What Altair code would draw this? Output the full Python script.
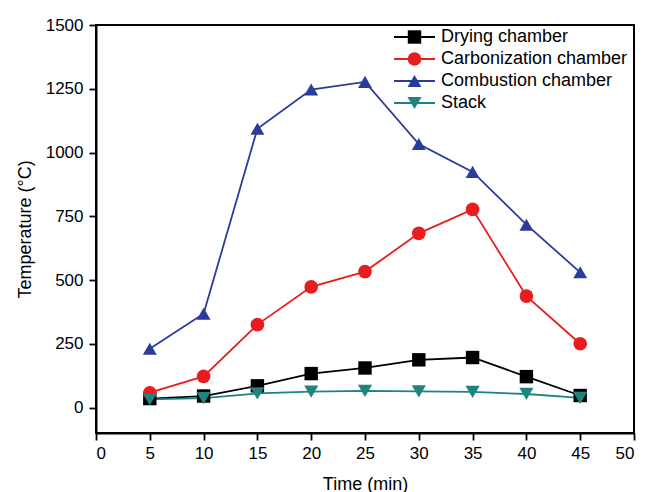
import altair as alt
import pandas as pd

# ---- data ----
times = [5, 10, 15, 20, 25, 30, 35, 40, 45]
drying = [35, 45, 85, 133, 155, 187, 196, 121, 47]
carbonization = [58, 122, 325, 473, 533, 683, 777, 437, 250]
combustion = [230, 368, 1093, 1247, 1277, 1033, 924, 717, 530]
stack = [32, 37, 55, 62, 65, 63, 61, 53, 38]

series_names = ["Drying chamber", "Carbonization chamber", "Combustion chamber", "Stack"]
series_colors = ["#000000", "#e81d1f", "#2a3b9c", "#1d847f"]
series_shapes = ["square", "circle", "triangle-up", "triangle-down"]
series_sizes = [180, 200, 280, 270]

y_ticks = [v * 125 for v in range(0, 13)]
x_ticks = [v * 2.5 for v in range(0, 21)]

rows = []
for name, vals in zip(series_names, [drying, carbonization, combustion, stack]):
    for t, v in zip(times, vals):
        rows.append({"time": t, "temp": v, "series": name})
df = pd.DataFrame(rows)
legend_df = pd.DataFrame({"series": series_names})

FONT = "Liberation Sans"

color_scale = alt.Scale(domain=series_names, range=series_colors)
shape_scale = alt.Scale(domain=series_names, range=series_shapes)
size_scale = alt.Scale(domain=series_names, range=series_sizes)

x_enc = alt.X(
    "time:Q",
    scale=alt.Scale(domain=[0, 50], nice=False, zero=False),
    axis=alt.Axis(
        title="Time (min)",
        values=x_ticks,
        format="d",
        labelExpr="datum.value % 5 == 0 ? datum.label : ''",
        tickSize={"condition": {"test": "datum.value % 5 != 0", "value": 4}, "value": 7},
        grid=False,
        labelPadding=5,
        titlePadding=14,
    ),
)
y_enc = alt.Y(
    "temp:Q",
    scale=alt.Scale(domain=[-100, 1500], nice=False, zero=False),
    axis=alt.Axis(
        title="Temperature (°C)",
        values=y_ticks,
        format="d",
        labelExpr="datum.value % 250 == 0 ? datum.label : ''",
        tickSize={"condition": {"test": "datum.value % 250 != 0", "value": 4}, "value": 7},
        grid=False,
        labelPadding=6,
        titlePadding=11,
    ),
)

color_enc = alt.Color("series:N", scale=color_scale, legend=None)

lines = alt.Chart(df).mark_line(strokeWidth=1.8).encode(
    x=x_enc, y=y_enc, color=color_enc, detail="series:N"
)
points = alt.Chart(df).mark_point(filled=True, opacity=1).encode(
    x="time:Q",
    y="temp:Q",
    color=color_enc,
    shape=alt.Shape("series:N", scale=shape_scale, legend=None),
    size=alt.Size("series:N", scale=size_scale, legend=None),
)
data_layer = alt.layer(lines, points)

# ---- hand-built legend (line through symbol) ----
leg_y = alt.Y(
    "series:N",
    scale=alt.Scale(type="point", domain=series_names, range=[12, 78], padding=0),
    axis=None,
)
leg_rule = alt.Chart(legend_df).mark_rule(strokeWidth=1.8).encode(
    x=alt.value(298), x2=alt.value(339), y=leg_y, color=color_enc
)
leg_pts = alt.Chart(legend_df).mark_point(filled=True, opacity=1).encode(
    x=alt.value(318.5),
    y=leg_y,
    color=color_enc,
    shape=alt.Shape("series:N", scale=shape_scale, legend=None),
    size=alt.Size("series:N", scale=size_scale, legend=None),
)
leg_text = alt.Chart(legend_df).mark_text(
    align="left", baseline="middle", font=FONT, fontSize=18, color="black"
).encode(x=alt.value(345), y=leg_y, text="series:N")
legend_layer = alt.layer(leg_rule, leg_pts, leg_text)

chart = (
    alt.layer(data_layer, legend_layer)
    .resolve_scale(y="independent")
    .properties(
        width=538,
        height=408,
        background="white",
        autosize=alt.AutoSizeParams(type="none"),
        padding={"left": 96, "top": 25, "right": 11, "bottom": 59},
    )
    .configure_view(stroke="black", strokeWidth=2)
    .configure_axis(
        domainColor="black",
        domainWidth=2,
        tickColor="black",
        tickWidth=1.8,
        labelFont=FONT,
        labelFontSize=17,
        labelColor="black",
        titleFont=FONT,
        titleFontSize=18,
        titleFontWeight="normal",
        titleColor="black",
    )
)

chart.save("out.html", embed_options={"renderer": "svg", "actions": False})
